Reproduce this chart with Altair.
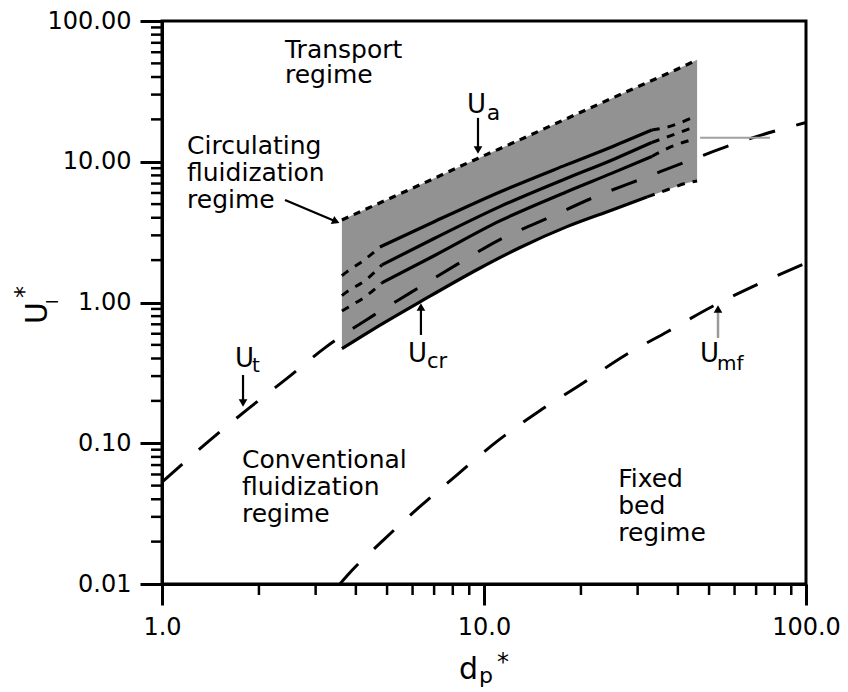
import altair as alt
import pandas as pd

# ---------------- values ----------------
# terminal velocity U_t (long dashes)
ut_x = [1.0, 1.38, 1.83, 2.45, 3.22, 4.5, 5.9, 8.2, 11.2, 15.8, 22.4, 31.4, 44.9, 63.9, 100.0]
ut_y = [0.053, 0.101, 0.172, 0.29, 0.48, 0.80, 1.17, 1.85, 2.8, 3.98, 5.7, 7.67, 10.5, 14.1, 19.0]

# minimum fluidization U_mf (long dashes)
umf_x = [3.57, 3.75, 4.87, 6.28, 8.23, 10.95, 14.75, 19.87, 27.2, 37.1, 51.5, 71.9, 100.0]
umf_y = [0.010, 0.0114, 0.0205, 0.035, 0.0594, 0.1026, 0.1675, 0.259, 0.417, 0.62, 0.944, 1.368, 1.91]

# shaded circulating-fluidization band: top = U_a, bottom = U_cr
band_x = [3.62, 4.5, 6.33, 9.6, 12.9, 18.1, 25.0, 32.1, 37.3, 43.0, 45.9]
band_top = [3.86, 4.83, 6.86, 10.6, 14.3, 20.3, 28.3, 36.5, 42.5, 49.3, 53.0]
band_bottom = [0.47, 0.64, 1.01, 1.73, 2.45, 3.46, 4.55, 5.62, 6.35, 7.1, 7.3]

# inner curves of the band (solid middle, short-dashed ends)
l1_x = [4.75, 7.0, 11.2, 18.0, 25.0, 33.2]
l1_y = [2.48, 3.75, 6.1, 9.5, 12.8, 16.8]
l1_left_x = [3.62, 3.75, 4.24, 4.75]
l1_left_y = [1.55, 1.65, 2.0, 2.48]
l1_right_x = [33.2, 37.3, 44.0]
l1_right_y = [16.8, 17.7, 20.4]

l2_x = [4.82, 7.0, 11.2, 18.0, 25.0, 33.2]
l2_y = [1.85, 2.85, 4.8, 7.6, 10.3, 13.7]
l2_left_x = [3.62, 3.75, 4.3, 4.82]
l2_left_y = [1.12, 1.19, 1.45, 1.85]
l2_right_x = [33.2, 37.3, 44.0]
l2_right_y = [13.7, 15.1, 17.3]

l3_x = [4.82, 7.0, 11.2, 18.0, 25.0, 33.2]
l3_y = [1.38, 2.15, 3.8, 6.1, 8.3, 10.9]
l3_left_x = [3.62, 3.8, 4.3, 4.82]
l3_left_y = [0.87, 0.93, 1.11, 1.38]
l3_right_x = [33.2, 37.3, 44.0]
l3_right_y = [10.9, 12.5, 14.3]

ucr_right_x = [32.1, 37.3, 43.0, 45.9]
ucr_right_y = [5.62, 6.35, 7.1, 7.3]

gray_x = [46.9, 77.3]
gray_y = [14.8, 14.8]

# tick values
x_major = [1, 10, 100]
x_minor = [2, 3, 4, 5, 6, 7, 8, 9, 20, 30, 40, 50, 60, 70, 80, 90]
y_major = [0.01, 0.1, 1, 10, 100]
y_minor = [0.02, 0.03, 0.04, 0.05, 0.06, 0.07, 0.08, 0.09,
           0.2, 0.3, 0.4, 0.5, 0.6, 0.7, 0.8, 0.9,
           2, 3, 4, 5, 6, 7, 8, 9,
           20, 30, 40, 50, 60, 70, 80, 90]

# annotation texts
regime_text = ["Transport\nregime", "Circulating\nfluidization\nregime",
               "Conventional\nfluidization\nregime", "Fixed\nbed\nregime"]
regime_x = [2.41, 1.196, 1.772, 26.1]
regime_y = [54.6, 11.35, 0.0667, 0.0489]

sym_text = ["U", "a", "U", "cr", "U", "t", "U", "mf"]
sym_x = [8.86, 10.2, 5.81, 6.65, 1.685, 1.903, 46.9, 52.9]
sym_y = [22.2, 19.8, 0.378, 0.342, 0.348, 0.321, 0.378, 0.331]
sym_size = [26, 22, 26, 21, 26, 20, 26, 20]

# arrows (shaft start -> head)
arr_x = [9.58, 6.37, 1.785, 2.41]
arr_y = [20.5, 0.588, 0.3055, 5.35]
arr_x2 = [9.58, 6.37, 1.785, 3.47]
arr_y2 = [12.1, 0.929, 0.193, 3.76]
arr_shape = ["triangle-down", "triangle-up", "triangle-down", "triangle-right"]
arr_angle = [0, 0, 0, 23]
umf_arr_x = [53.3]
umf_arr_y = [0.56]
umf_arr_y2 = [0.899]

FONT = "DejaVu Sans"
W, H = 644, 563
xs = alt.Scale(type="log", domain=[1, 100], nice=False)
ys = alt.Scale(type="log", domain=[0.01, 100], nice=False)


def xy(xv, yv):
    return pd.DataFrame({"x": xv, "y": yv})


def enc(chart):
    return chart.encode(
        x=alt.X("x:Q", scale=xs, axis=None),
        y=alt.Y("y:Q", scale=ys, axis=None),
    )


def line(xv, yv, dash=None, width=3.0, color="black"):
    kw = dict(color=color, strokeWidth=width, interpolate="monotone", strokeCap="butt")
    if dash is not None:
        kw["strokeDash"] = dash
    return enc(alt.Chart(xy(xv, yv)).mark_line(**kw))


# band (carries the major axes)
band = alt.Chart(pd.DataFrame({"x": band_x, "top": band_top, "bot": band_bottom})).mark_area(
    color="#929292", opacity=1, interpolate="monotone"
).encode(
    x=alt.X("x:Q", scale=xs, axis=alt.Axis(
        values=x_major, format=".1f", tickSize=21, tickWidth=3, tickColor="black",
        domainColor="black", domainWidth=3, labelFontSize=24, labelColor="black",
        labelFont=FONT, labelPadding=10, labelFlush=False, labelOverlap=False,
        grid=False, title=None, orient="bottom")),
    y=alt.Y("top:Q", scale=ys, axis=alt.Axis(
        values=y_major, format=".2f", tickSize=22, tickWidth=3, tickColor="black",
        domainColor="black", domainWidth=3, labelFontSize=24, labelColor="black",
        labelFont=FONT, labelPadding=9, labelOverlap=False,
        grid=False, title=None, orient="left")),
    y2="bot:Q",
)

# minor ticks drawn through the same scales
minor_y = alt.Chart(pd.DataFrame({"v": y_minor})).mark_rule(color="black", strokeWidth=2.5).encode(
    y=alt.Y("v:Q", scale=ys, axis=None), x=alt.value(-11), x2=alt.value(0))
minor_x = alt.Chart(pd.DataFrame({"v": x_minor})).mark_rule(color="black", strokeWidth=2.5).encode(
    x=alt.X("v:Q", scale=xs, axis=None), y=alt.value(H), y2=alt.value(H + 11))

SHORT = [8, 8]
LONG = [27, 22]
layers = [
    band, minor_y, minor_x,
    line(band_x, band_top, dash=[7, 6], width=3.2),
    line(band_x[:8], band_bottom[:8], width=3.2),
    line(ucr_right_x, ucr_right_y, dash=SHORT, width=3),
    line(l1_x, l1_y, width=3.2), line(l1_left_x, l1_left_y, dash=SHORT), line(l1_right_x, l1_right_y, dash=SHORT),
    line(l2_x, l2_y, width=3.2), line(l2_left_x, l2_left_y, dash=SHORT), line(l2_right_x, l2_right_y, dash=SHORT),
    line(l3_x, l3_y, width=3.2), line(l3_left_x, l3_left_y, dash=SHORT), line(l3_right_x, l3_right_y, dash=SHORT),
    line(ut_x, ut_y, dash=LONG, width=3),
    line(umf_x, umf_y, dash=LONG, width=3),
    line(gray_x, gray_y, width=2, color="#a0a0a0"),
]

# arrows
arr_df = pd.DataFrame({"x": arr_x, "y": arr_y, "x2": arr_x2, "y2": arr_y2})
layers.append(alt.Chart(arr_df).mark_rule(color="black", strokeWidth=2.2).encode(
    x=alt.X("x:Q", scale=xs, axis=None), y=alt.Y("y:Q", scale=ys, axis=None),
    x2="x2:Q", y2="y2:Q"))
layers.append(alt.Chart(pd.DataFrame({"x": umf_arr_x, "y": umf_arr_y, "y2": umf_arr_y2})).mark_rule(
    color="#9a9a9a", strokeWidth=2.5).encode(
    x=alt.X("x:Q", scale=xs, axis=None), y=alt.Y("y:Q", scale=ys, axis=None), y2="y2:Q"))
head_df = pd.DataFrame({"x": arr_x2 + umf_arr_x, "y": arr_y2 + umf_arr_y2,
                        "shape": arr_shape + ["triangle-up"], "angle": arr_angle + [0]})
layers.append(alt.Chart(head_df).mark_point(filled=True, color="black", opacity=1, size=75).encode(
    x=alt.X("x:Q", scale=xs, axis=None), y=alt.Y("y:Q", scale=ys, axis=None),
    shape=alt.Shape("shape:N", scale=None, legend=None),
    angle=alt.Angle("angle:Q", scale=None)))

# regime texts
for i, t in enumerate(regime_text):
    lh = 25 if i == 0 else 27
    layers.append(alt.Chart(pd.DataFrame({"x": [regime_x[i]], "y": [regime_y[i]], "t": [t]})).mark_text(
        align="left", baseline="alphabetic", fontSize=25, font=FONT, color="black",
        lineBreak="\n", lineHeight=lh).encode(
        x=alt.X("x:Q", scale=xs, axis=None), y=alt.Y("y:Q", scale=ys, axis=None), text="t:N"))

# velocity symbols with subscripts
layers.append(alt.Chart(pd.DataFrame({"x": sym_x, "y": sym_y, "t": sym_text, "s": sym_size})).mark_text(
    align="left", baseline="alphabetic", font=FONT, color="black").encode(
    x=alt.X("x:Q", scale=xs, axis=None), y=alt.Y("y:Q", scale=ys, axis=None),
    text="t:N", size=alt.Size("s:Q", scale=None, legend=None)))

# axis titles built from pieces (pixel offsets from the plot origin)
ytitle = pd.DataFrame({"t": ["U", "l", "*"], "px": [-115, -104, -130], "py": [303, 283, 277],
                       "s": [30, 16, 24]})
layers.append(alt.Chart(ytitle).mark_text(
    align="left", baseline="alphabetic", font=FONT, color="black", angle=270).encode(
    x=alt.X("px:Q", scale=None, axis=None), y=alt.Y("py:Q", scale=None, axis=None),
    text="t:N", size=alt.Size("s:Q", scale=None, legend=None)))
xtitle = pd.DataFrame({"t": ["d", "p", "*"], "px": [297, 317, 335], "py": [658, 662, 649],
                       "s": [30, 22, 24]})
layers.append(alt.Chart(xtitle).mark_text(
    align="left", baseline="alphabetic", font=FONT, color="black").encode(
    x=alt.X("px:Q", scale=None, axis=None), y=alt.Y("py:Q", scale=None, axis=None),
    text="t:N", size=alt.Size("s:Q", scale=None, legend=None)))

chart = alt.layer(*layers).resolve_axis(x="independent", y="independent").properties(
    width=W, height=H,
    autosize=alt.AutoSizeParams(type="none"),
    padding={"left": 162, "top": 21, "right": 42, "bottom": 108},
).configure(font=FONT).configure_view(stroke="black", strokeWidth=3)

chart.save("out.html", embed_options={"renderer": "svg", "actions": False})
